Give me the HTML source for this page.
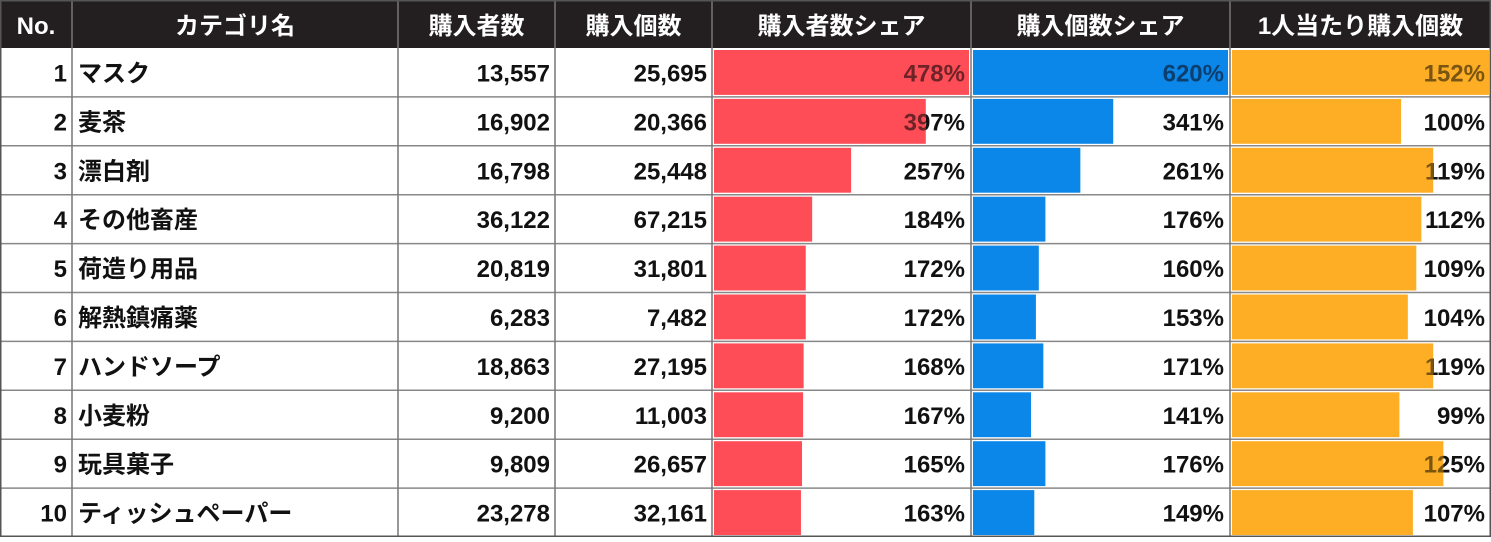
<!DOCTYPE html>
<html><head><meta charset="utf-8">
<style>
html,body{margin:0;padding:0;background:#fff;}
svg text{font-family:"Liberation Sans","Noto Sans CJK JP",sans-serif;font-weight:bold;}
</style></head>
<body>
<svg id="tbl" width="1491" height="537" xmlns="http://www.w3.org/2000/svg"><defs id="defs"></defs></svg>
<script>
const categories = ["マスク","麦茶","漂白剤","その他畜産","荷造り用品","解熱鎮痛薬","ハンドソープ","小麦粉","玩具菓子","ティッシュペーパー"];
const buyers = [13557,16902,16798,36122,20819,6283,18863,9200,9809,23278];
const units = [25695,20366,25448,67215,31801,7482,27195,11003,26657,32161];
const buyerShare = [478,397,257,184,172,172,168,167,165,163];
const unitShare = [620,341,261,176,160,153,171,141,176,149];
const perPerson = [152,100,119,112,109,104,119,99,125,107];
const headers = ["No.","カテゴリ名","購入者数","購入個数","購入者数シェア","購入個数シェア","1人当たり購入個数"];

const svg = document.getElementById('tbl');
const defs = document.getElementById('defs');
const NS = "http://www.w3.org/2000/svg";
const colX = [0,72,398,555,712,971,1230,1491];
const headH = 48, rowH = 48.9;
let clipId = 0;
function el(tag, attrs, parent){
  const e = document.createElementNS(NS, tag);
  for (const k in attrs) e.setAttribute(k, attrs[k]);
  (parent||svg).appendChild(e);
  return e;
}
function fmt(n){return n.toLocaleString('en-US');}

const hbg = el('rect',{x:0,y:0,width:1491,height:headH,fill:'#231f20'});


headers.forEach((h,i)=>{
  const t = el('text',{x:(colX[i]+colX[i+1])/2,y:34,'text-anchor':'middle','font-size':24,fill:'#fff'});
  t.textContent = h;
  
  
});

function bar(col, v, max, color, dark, r){
  const x0 = colX[col]+2, w = colX[col+1]-colX[col]-4;
  const y = headH + r*rowH;
  const bw = w*v/max;
  const tx = colX[col+1]-6, ty = y+rowH/2+9;
  const tv = el('text',{x:tx,y:ty,'text-anchor':'end','font-size':24,fill:'#111'});
  tv.textContent = v+'%';
  
  
  const b = el('rect',{x:x0,y:y+2,width:bw,height:rowH-4,fill:color});
  
  
  const id = 'c'+(clipId++);
  const cp = el('clipPath',{id:id},defs);
  el('rect',{x:x0,y:y+2,width:bw,height:rowH-4},cp);
  const t2 = el('text',{x:tx,y:ty,'text-anchor':'end','font-size':24,fill:dark,'clip-path':'url(#'+id+')'});
  t2.textContent = v+'%';
  
  
}
const m1 = Math.max(...buyerShare), m2 = Math.max(...unitShare), m3 = Math.max(...perPerson);
categories.forEach((c,r)=>{
  const y = headH + r*rowH, ty = y+rowH/2+9;
  const cells = [[0,String(r+1),'end'],[1,c,'start'],[2,fmt(buyers[r]),'end'],[3,fmt(units[r]),'end']];
  cells.forEach(([ci,txt,anc])=>{
    const t = el('text',{x:anc==='end'?colX[ci+1]-5:colX[ci]+6,y:ty,'text-anchor':anc,'font-size':24,fill:'#111'});
    t.textContent = txt;
    
    
  });
  bar(4, buyerShare[r], m1, '#ff4d57', '#6e2328', r);
  bar(5, unitShare[r], m2, '#0b87ea', '#0d3f6e', r);
  bar(6, perPerson[r], m3, '#fdae25', '#7a5512', r);
});
for (let r=1;r<=10;r++){
  const l = el('line',{x1:0,x2:1491,y1:headH+r*rowH,y2:headH+r*rowH,stroke:'#888','stroke-width':1.5});
  
  
}
colX.slice(1,-1).forEach(x=>{
  const l = el('line',{x1:x,x2:x,y1:0,y2:537,stroke:'#777','stroke-width':1.5});
  
  
});
const ob = el('rect',{x:0.75,y:0.75,width:1489.5,height:535.5,fill:'none',stroke:'#555','stroke-width':1.5});


</script>
</body></html>
